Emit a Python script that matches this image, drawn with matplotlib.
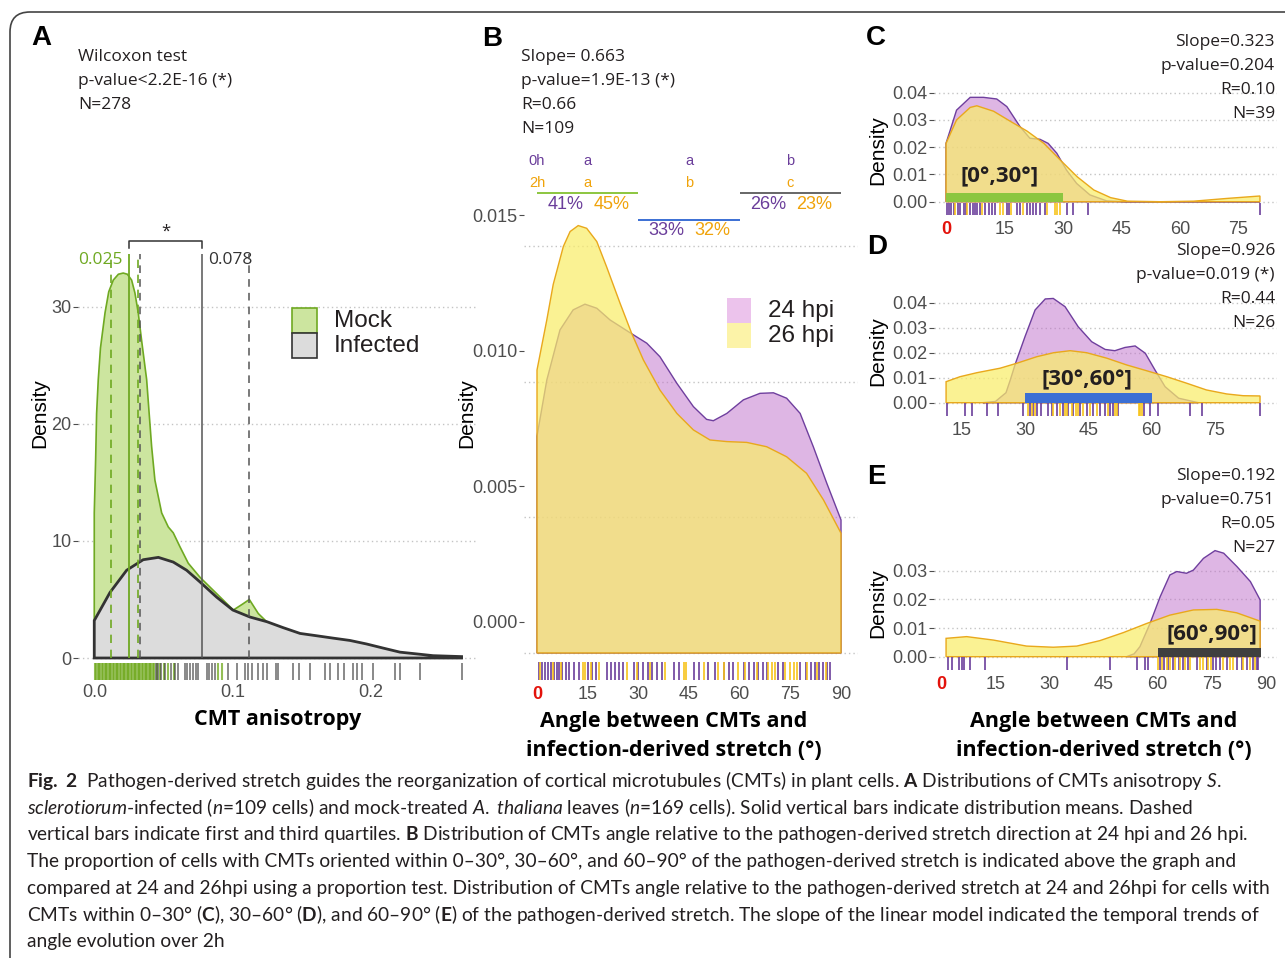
import matplotlib
matplotlib.use("Agg")
import matplotlib.pyplot as plt
from matplotlib.patches import Rectangle, FancyBboxPatch
from matplotlib.transforms import ScaledTranslation

W, H = 1285, 958

# ---------------- A : CMT anisotropy ----------------
mock_x = [-0.0005, 0.0005, 0.0012, 0.0024, 0.004, 0.0073, 0.010, 0.0133, 0.017, 0.0205, 0.0235,
          0.0266, 0.029, 0.0314, 0.034, 0.0375, 0.0411, 0.0435, 0.0484, 0.0532, 0.0568, 0.0617,
          0.0677, 0.0762, 0.0883, 0.1004, 0.107, 0.112, 0.1185, 0.1246, 0.135, 0.15, 0.17, 0.19]
mock_y = [12.4, 17.0, 20.9, 23.8, 26.5, 29.5, 31.3, 32.3, 32.8, 32.9, 32.8,
          32.3, 31.2, 29.5, 27.0, 23.8, 18.1, 15.2, 12.4, 11.2, 10.7, 9.5,
          8.1, 6.9, 5.5, 4.1, 4.6, 5.0, 3.8, 3.1, 2.2, 1.0, 0.3, 0.0]
inf_x = [-0.0005, 0.0109, 0.023, 0.035, 0.046, 0.0568, 0.0665, 0.0762, 0.0883, 0.1, 0.1125,
         0.1248, 0.1364, 0.1488, 0.1609, 0.1727, 0.185, 0.197, 0.209, 0.2213, 0.2334, 0.2453, 0.266]
inf_y = [3.2, 5.6, 7.5, 8.4, 8.6, 8.2, 7.5, 6.5, 5.2, 4.1, 3.5,
         3.1, 2.6, 2.1, 1.9, 1.7, 1.5, 1.2, 0.85, 0.5, 0.35, 0.2, 0.12]
mock_mean, inf_mean = 0.025, 0.078
mock_quart = [0.0114, 0.031]
inf_quart = [0.033, 0.112]
rug_mock = [0.000, 0.001, 0.002, 0.003, 0.004, 0.005, 0.006, 0.007, 0.008, 0.009, 0.010, 0.011,
            0.012, 0.013, 0.014, 0.015, 0.016, 0.017, 0.018, 0.019, 0.020, 0.021, 0.022, 0.023,
            0.024, 0.025, 0.026, 0.027, 0.028, 0.029, 0.030, 0.031, 0.032, 0.033, 0.034, 0.035,
            0.036, 0.037, 0.038, 0.039, 0.040, 0.041, 0.042, 0.043, 0.045, 0.047, 0.050, 0.053,
            0.057, 0.089, 0.092]
rug_inf = [0.044, 0.046, 0.048, 0.051, 0.055, 0.058, 0.060, 0.065, 0.067, 0.069, 0.071, 0.073,
           0.075, 0.081, 0.083, 0.085, 0.087, 0.0965, 0.103, 0.109, 0.111, 0.114, 0.118, 0.122,
           0.125, 0.131, 0.133, 0.144, 0.148, 0.156, 0.167, 0.1705, 0.176, 0.181, 0.1875, 0.190,
           0.1935, 0.202, 0.2177, 0.2213, 0.236, 0.266]

# ---------------- B : all cells ----------------
b24_x = [0, 2.9, 6.8, 10.7, 14.2, 17.7, 21.6, 27.5, 32.5, 36.4, 41.4, 46.3, 50.2, 52.2,
         56.2, 61.1, 66, 70, 73.9, 77.9, 81.8, 85.8, 90]
b24_y = [0.0080, 0.01007, 0.01192, 0.01266, 0.01287, 0.01272, 0.01229, 0.01182, 0.01143,
         0.01093, 0.00995, 0.00909, 0.00862, 0.00857, 0.00884, 0.00934, 0.00958, 0.0096,
         0.0094, 0.00884, 0.00761, 0.00626, 0.00491]
b26_x = [0, 2.9, 4.8, 7.8, 9.8, 12.2, 14.7, 17.7, 20.6, 24.6, 28, 31.5, 36.4, 41.4, 46.3,
         51.2, 56.2, 62.1, 68, 73.9, 79.8, 84.8, 90]
b26_y = [0.01044, 0.01229, 0.0136, 0.0150, 0.01555, 0.01577, 0.01567, 0.01518, 0.01425,
         0.0129, 0.0118, 0.01081, 0.0097, 0.00884, 0.00823, 0.00786, 0.0078, 0.00777,
         0.00761, 0.00724, 0.00663, 0.00565, 0.00442]
rug_b24 = [0.5, 1.5, 2.5, 3.3, 4.2, 5, 5.8, 6.5, 7.5, 8.6, 9.5, 11, 12.3, 15, 16.3, 17.5,
           20.8, 22, 23, 24.3, 25.6, 28.8, 30, 31.5, 32.8, 34, 35.6, 37, 40.6, 42, 46.5, 48,
           50.5, 52.8, 55.3, 56.8, 58, 61.2, 62.7, 64.3, 65.5, 67, 68, 71.3, 72.8, 78, 79.5,
           81, 82.3, 83.5, 84.8, 85.9, 86.6]
rug_b26 = [1, 4.8, 7, 13.5, 14.2, 16, 18.5, 26.5, 29.5, 33.5, 38, 43.5, 44.2, 49.5, 53.5,
           55.5, 59.5, 61.5, 65, 68.5, 69.5, 70.5, 73.5, 75, 76, 77, 80, 83, 85.5]
bins = [0, 30, 60, 90]
pct_24 = [41, 33, 26]
pct_26 = [45, 32, 23]
grp_24 = ['a', 'a', 'b']
grp_26 = ['a', 'b', 'c']

# ---------------- C : [0,30] ----------------
c24_x = [0, 2.7, 6.2, 9.6, 13, 15.6, 19, 21.5, 24.1, 26.2, 28.4, 30.9, 33.5, 36.9, 41.2, 46, 80.5]
c24_y = [0.0214, 0.0336, 0.0383, 0.0383, 0.0377, 0.0349, 0.0275, 0.0233, 0.0229, 0.0214,
         0.0178, 0.0116, 0.0067, 0.0025, 0.0003, 0.0, 0.0]
c26_x = [0, 2.7, 6.2, 7.9, 12.2, 16.5, 20.8, 25.1, 29.3, 33.6, 37.9, 42.2, 46.5, 55, 63.5, 72, 80.5]
c26_y = [0.0214, 0.0300, 0.0346, 0.0352, 0.0332, 0.0295, 0.0259, 0.0214, 0.0153, 0.0092,
         0.0043, 0.0015, 0.0002, 0.0, 0.0002, 0.0012, 0.0021]
rug_c24 = [0.3, 0.8, 1.4, 2.1, 3.2, 3.6, 4.5, 5.1, 6.2, 7.0, 7.5, 8.0, 8.7, 10.0, 10.9, 11.7,
           12.6, 15.6, 16.2, 18.1, 19.0, 20.7, 21.5, 22.4, 23.2, 24.1, 25.4, 30.9, 32.5, 36.3, 80.5]
rug_c26 = [2.3, 5.5, 9.2, 13.8, 14.5, 16.6, 19.8, 25.8, 27.9, 28.5, 29.2]

# ---------------- D : [30,60] ----------------
d24_x = [20, 23, 25.5, 26.5, 27.7, 30, 32.4, 34.8, 36.7, 39.5, 42.6, 45.8, 49, 51.3, 53.7,
         56.1, 58.5, 60.8, 63.2, 66.4, 71.1]
d24_y = [0.0, 0.0005, 0.004, 0.009, 0.0155, 0.0264, 0.0371, 0.0415, 0.0417, 0.0384, 0.0304,
         0.0244, 0.0213, 0.0208, 0.0221, 0.0227, 0.0198, 0.0131, 0.0064, 0.0018, 0.0]
d26_x = [11.3, 14.6, 18.6, 24.1, 28.1, 32.8, 36.8, 40.7, 44.6, 49.4, 54.1, 58.8, 63.6, 68.3,
         73, 77.8, 81.7, 85.7]
d26_y = [0.0084, 0.0104, 0.012, 0.0138, 0.0158, 0.0184, 0.02, 0.0208, 0.02, 0.0178, 0.0151,
         0.0128, 0.0104, 0.0078, 0.0051, 0.0035, 0.0028, 0.0027]
rug_d24 = [11.6, 15.8, 17.4, 20.9, 23.7, 29.6, 31.2, 32.0, 32.8, 33.9, 35.5, 36.3, 37.5, 39.1,
           40.3, 41.4, 43.0, 44.6, 46.2, 47.8, 48.9, 50.1, 50.9, 52.1, 58.1, 59.6, 61.6, 69.1,
           71.9, 85.7]
rug_d26 = [30.8, 31.6, 32.4, 36.7, 38.3, 39.5, 39.9, 41.1, 42.2, 42.6, 43.8, 45.4, 47.0, 49.7,
           51.3, 51.7, 56.9, 57.3, 57.7]

# ---------------- E : [60,90] ----------------
e24_x = [51.4, 53.5, 55.1, 57.9, 60.7, 63.4, 65.3, 68, 69.9, 72.7, 75.9, 78.3, 82, 85.7, 88.4]
e24_y = [0.0, 0.001, 0.0035, 0.0116, 0.0209, 0.0285, 0.0297, 0.0291, 0.0302, 0.0343, 0.037,
         0.0361, 0.0314, 0.0262, 0.0198]
e26_x = [1.4, 7.1, 14.5, 23.7, 31.1, 37.6, 44, 50.5, 57, 63.4, 69.9, 76.4, 81.9, 88.4]
e26_y = [0.0064, 0.007, 0.0058, 0.0037, 0.0033, 0.0037, 0.0056, 0.0084, 0.0116, 0.0145,
         0.0163, 0.0165, 0.0153, 0.0124]
rug_e24 = [1.8, 3.0, 5.1, 5.7, 6.4, 7.9, 12.2, 35.0, 46.8, 54.2, 56.5, 57.4, 60.7, 61.8, 63.0,
           64.4, 65.8, 67.1, 68.5, 70.8, 73.6, 75.4, 76.3, 77.3, 79.1, 81.9, 83.3, 84.7, 86.5,
           87.4, 87.9]
rug_e26 = [60.2, 61.1, 62.5, 63.4, 64.8, 66.2, 67.6, 68.9, 71.7, 72.6, 74.0, 74.9, 78.2, 80.0,
           80.9, 83.7, 85.6, 87.0]

stats_a = ["Wilcoxon test", "p-value<2.2E-16 (*)", "N=278"]
stats_b = ["Slope= 0.663", "p-value=1.9E-13 (*)", "R=0.66", "N=109"]
stats_c = ["Slope=0.323", "p-value=0.204", "R=0.10", "N=39"]
stats_d = ["Slope=0.926", "p-value=0.019 (*)", "R=0.44", "N=26"]
stats_e = ["Slope=0.192", "p-value=0.751", "R=0.05", "N=27"]

caption = [
    r"$\mathbf{Fig.\ 2}$  Pathogen-derived stretch guides the reorganization of cortical microtubules (CMTs) in plant cells. $\mathbf{A}$ Distributions of CMTs anisotropy $\mathit{S.}$",
    r"$\mathit{sclerotiorum}$-infected ($\mathit{n}$=109 cells) and mock-treated $\mathit{A.\ thaliana}$ leaves ($\mathit{n}$=169 cells). Solid vertical bars indicate distribution means. Dashed",
    r"vertical bars indicate first and third quartiles. $\mathbf{B}$ Distribution of CMTs angle relative to the pathogen-derived stretch direction at 24 hpi and 26 hpi.",
    "The proportion of cells with CMTs oriented within 0–30°, 30–60°, and 60–90° of the pathogen-derived stretch is indicated above the graph and",
    "compared at 24 and 26hpi using a proportion test. Distribution of CMTs angle relative to the pathogen-derived stretch at 24 and 26hpi for cells with",
    r"CMTs within 0–30° ($\mathbf{C}$), 30–60° ($\mathbf{D}$), and 60–90° ($\mathbf{E}$) of the pathogen-derived stretch. The slope of the linear model indicated the temporal trends of",
    "angle evolution over 2h",
]

# ---------------- style ----------------
CAPTION_FONT = 'Lato'
HUMAN = 'Open Sans'
ARIAL = 'Liberation Sans'

INK = '#231f20'
TICK_GREY = '#4d4d4d'
GRID = '#c4c4c4'
PURPLE_FILL, PURPLE_LINE = '#bf6fca', '#6f3f9e'
YELLOW_FILL, YELLOW_LINE = '#f9ed6a', '#e9a81c'
RUG_PURPLE, RUG_YELLOW = '#6a3d9a', '#f7c31a'
GREEN_FILL, GREEN_LINE = '#cce59f', '#6fa922'
GREY_FILL, GREY_LINE = '#dcdcdc', '#333333'
RED = '#e3120b'

plt.rcParams['font.family'] = ARIAL
plt.rcParams['mathtext.fontset'] = 'custom'
plt.rcParams['mathtext.rm'] = CAPTION_FONT
plt.rcParams['mathtext.it'] = CAPTION_FONT + ':italic'
plt.rcParams['mathtext.bf'] = CAPTION_FONT + ':bold'

fig = plt.figure(figsize=(W / 100, H / 100), dpi=100)


def ftext(x, y, s, **kw):
    kw.setdefault('color', INK)
    return fig.text(x / W, 1 - y / H, s, **kw)


def frect(l, t, r, b, **kw):
    fig.add_artist(Rectangle((l / W, 1 - b / H), (r - l) / W, (b - t) / H,
                             transform=fig.transFigure, **kw))


def make_axes(l, t, r, b, xlim, ylim):
    ax = fig.add_axes([l / W, 1 - b / H, (r - l) / W, (b - t) / H])
    for s in ax.spines.values():
        s.set_visible(False)
    ax.set_facecolor('none')
    ax.set_xlim(*xlim)
    ax.set_ylim(*ylim)
    ax.grid(axis='y', color=GRID, linestyle=(0, (1, 2.2)), linewidth=1.0)
    ax.set_axisbelow(True)
    ax.tick_params(axis='y', length=3.5, width=0.8, color=TICK_GREY,
                   labelcolor=TICK_GREY, labelsize=13, pad=1)
    ax.tick_params(axis='x', length=0, labelcolor=TICK_GREY, labelsize=13, pad=3)
    return ax


def closed(x, y):
    # density polygon closed down to the baseline, like geom_density
    return [x[0]] + list(x) + [x[-1]], [0] + list(y) + [0]


def pair(ax, d24, d26, r24, r26, rug_lo, rug_hi):
    px, py = closed(*d24)
    ax.fill(px, py, facecolor=PURPLE_FILL, alpha=0.5, edgecolor='none', zorder=2)
    ax.fill(px, py, facecolor='none', edgecolor=PURPLE_LINE, lw=1.0, zorder=2)
    px, py = closed(*d26)
    ax.fill(px, py, facecolor=YELLOW_FILL, alpha=0.72, edgecolor='none', zorder=3)
    ax.fill(px, py, facecolor='none', edgecolor=YELLOW_LINE, lw=1.0, zorder=3)
    ax.vlines(r24, rug_lo, rug_hi, color=RUG_PURPLE, lw=1.4, alpha=0.85, zorder=4)
    ax.vlines(r26, rug_lo, rug_hi, color=RUG_YELLOW, lw=1.4, alpha=0.85, zorder=4)


def red_zero(ax):
    lab = ax.get_xticklabels()[0]
    lab.set_color(RED)
    lab.set_fontweight('bold')


# ---------------- Panel A ----------------
axA = make_axes(78, 230, 478, 680, (-0.0123, 0.2779), (-1.88, 36.58))
px, py = closed(mock_x, mock_y)
axA.fill(px, py, facecolor=GREEN_FILL, edgecolor=GREEN_LINE, lw=1.2, zorder=2)
px, py = closed(inf_x, inf_y)
axA.fill(px, py, facecolor=GREY_FILL, edgecolor=GREY_LINE, lw=2.0, zorder=3)
axA.vlines(mock_quart, 0, 34.5, color=GREEN_LINE, lw=1.2, linestyles=(0, (5, 4)), zorder=4)
axA.vlines(inf_quart, 0, 34.5, color='#555555', lw=1.1, linestyles=(0, (5, 4)), zorder=4)
axA.vlines(mock_mean, 0, 34.5, color=GREEN_LINE, lw=1.3, zorder=4)
axA.vlines(inf_mean, 0, 34.5, color='#555555', lw=1.1, zorder=4)
axA.plot([mock_mean, mock_mean, inf_mean, inf_mean], [35.0, 35.6, 35.6, 35.0],
         color='#333333', lw=1.1, clip_on=False)
axA.text((mock_mean + inf_mean) / 2, 36.4, '*', ha='center', va='center',
         fontsize=12, color=INK, family=HUMAN)
axA.annotate(f'{mock_mean:.3f}', (mock_mean, 34.0), xytext=(-5, 0), textcoords='offset points',
             ha='right', va='center', fontsize=12.5, color=GREEN_LINE, family=HUMAN)
axA.annotate(f'{inf_mean:.3f}', (inf_mean, 34.0), xytext=(4, 0), textcoords='offset points',
             ha='left', va='center', fontsize=12.5, color='#333333', family=HUMAN)
axA.vlines(rug_mock, -0.45, -1.88, color='#6fa81c', lw=1.5, alpha=0.75, zorder=4)
axA.vlines(rug_inf, -0.45, -1.88, color='#3c3c3c', lw=1.2, alpha=0.7, zorder=4)
axA.set_yticks([0, 10, 20, 30])
axA.set_xticks([0, 0.1, 0.2], ['0.0', '0.1', '0.2'])

frect(292, 308, 317, 333, facecolor=GREEN_FILL, edgecolor=GREEN_LINE, lw=1.2)
frect(292, 333, 317, 358, facecolor=GREY_FILL, edgecolor=GREY_LINE, lw=1.2)
ftext(334, 321, 'Mock', fontsize=17.5, va='center')
ftext(334, 346, 'Infected', fontsize=17.5, va='center')

# ---------------- Panel B ----------------
axB = make_axes(524, 215, 858, 682, (-3.85, 95.03), (-0.00107, 0.01616))
pair(axB, (b24_x, b24_y), (b26_x, b26_y), rug_b24, rug_b26, -0.00033, -0.00100)
axB.set_yticks([0, 0.005, 0.010, 0.015], ['0.000', '0.005', '0.010', '0.015'])
axB.set_xticks([0, 15, 30, 45, 60, 75, 90])
red_zero(axB)

bin_cols = ['#8cc63f', '#3b6fd4', '#666666']
bin_line_y = [0.01696, 0.01598, 0.01696]
axB.text(bins[0], 0.01815, '0h', ha='center', va='center', fontsize=10.5, color=RUG_PURPLE, clip_on=False)
axB.text(bins[0], 0.01734, '2h', ha='center', va='center', fontsize=10.5, color='#f0a30a', clip_on=False)
for i in range(3):
    lo, hi = bins[i], bins[i + 1]
    mid = (lo + hi) / 2
    axB.hlines(bin_line_y[i], lo, hi, color=bin_cols[i], lw=1.4, clip_on=False)
    axB.text(mid, 0.01815, grp_24[i], ha='center', va='center', fontsize=10.5,
             color=RUG_PURPLE, clip_on=False)
    axB.text(mid, 0.01734, grp_26[i], ha='center', va='center', fontsize=10.5,
             color='#f0a30a', clip_on=False)
    py = bin_line_y[i] - 0.00040
    axB.annotate(f'{pct_24[i]}%', (mid, py), xytext=(-3, 0), textcoords='offset points',
                 ha='right', va='center', fontsize=13, color=RUG_PURPLE, annotation_clip=False)
    axB.annotate(f'{pct_26[i]}%', (mid, py), xytext=(4, 0), textcoords='offset points',
                 ha='left', va='center', fontsize=13, color='#f0a30a', annotation_clip=False)

frect(727, 298, 751, 323, facecolor='#ecc3ec', edgecolor='none')
frect(727, 323, 751, 348, facecolor='#fcf3a8', edgecolor='none')
ftext(768, 311, '24 hpi', fontsize=17.5, va='center')
ftext(768, 336, '26 hpi', fontsize=17.5, va='center')

# ---------------- Panels C, D, E ----------------
axC = make_axes(934, 85, 1277, 217, (-3.08, 84.87), (-0.00561, 0.04283))
pair(axC, (c24_x, c24_y), (c26_x, c26_y), rug_c24, rug_c26, -0.0004, -0.0049)
axC.fill_between([0, 30], 0, 0.0031, color='#8cc63f', lw=0, zorder=5)
axC.text(13.8, 0.0092, '[0°,30°]', ha='center', va='center', fontsize=16,
         family=HUMAN, weight='bold', color=INK, zorder=6)
axC.set_yticks([0, 0.01, 0.02, 0.03, 0.04], ['0.00', '0.01', '0.02', '0.03', '0.04'])
axC.set_xticks([0, 15, 30, 45, 60, 75])
red_zero(axC)

axD = make_axes(934, 290, 1277, 418, (8.44, 89.72), (-0.00612, 0.04508))
pair(axD, (d24_x, d24_y), (d26_x, d26_y), rug_d24, rug_d26, -0.0002, -0.0053)
axD.fill_between([30, 60], 0, 0.0037, color='#3b6fd4', lw=0, zorder=5)
axD.text(44.6, 0.0091, '[30°,60°]', ha='center', va='center', fontsize=16,
         family=HUMAN, weight='bold', color=INK, zorder=6)
axD.set_yticks([0, 0.01, 0.02, 0.03, 0.04], ['0.00', '0.01', '0.02', '0.03', '0.04'])
axD.set_xticks([15, 30, 45, 60, 75])

axE = make_axes(934, 540, 1277, 672, (-1.94, 93.07), (-0.00534, 0.0407))
pair(axE, (e24_x, e24_y), (e26_x, e26_y), rug_e24, rug_e26, -0.0002, -0.0046)
axE.fill_between([60, 88.6], 0, 0.0029, color='#3f3f3f', lw=0, zorder=5)
axE.text(75, 0.0076, '[60°,90°]', ha='center', va='center', fontsize=16,
         family=HUMAN, weight='bold', color=INK, zorder=6)
axE.set_yticks([0, 0.01, 0.02, 0.03], ['0.00', '0.01', '0.02', '0.03'])
axE.set_xticks([0, 15, 30, 45, 60, 75, 90])
red_zero(axE)

# B tick labels sit ~31 px above their grid lines in the original
shift = ScaledTranslation(0, 31 / 100, fig.dpi_scale_trans)
for tick in axB.yaxis.get_major_ticks():
    tick.label1.set_transform(tick.label1.get_transform() + shift)
    tick.tick1line.set_transform(tick.tick1line.get_transform() + shift)

# ---------------- labels / text ----------------
for lab, x, y in [('A', 41, 38), ('B', 492, 39), ('C', 876, 38), ('D', 877, 247), ('E', 876, 477)]:
    ftext(x, y, lab, fontsize=20, weight='bold', ha='center', va='center', color='black')

for i, s in enumerate(stats_a):
    ftext(78, 57 + 24 * i, s, fontsize=12.5, family=HUMAN, va='center')
for i, s in enumerate(stats_b):
    ftext(521, 57 + 24 * i, s, fontsize=12.5, family=HUMAN, va='center')
for i, s in enumerate(stats_c):
    ftext(1275, 42 + 24 * i, s, fontsize=12.5, family=HUMAN, va='center', ha='right')
for i, s in enumerate(stats_d):
    ftext(1275, 251 + 24 * i, s, fontsize=12.5, family=HUMAN, va='center', ha='right')
for i, s in enumerate(stats_e):
    ftext(1275, 476 + 24 * i, s, fontsize=12.5, family=HUMAN, va='center', ha='right')

for x, y in [(40, 413), (467, 413), (878, 150), (878, 351), (878, 603)]:
    ftext(x, y, 'Density', fontsize=15, rotation=90, ha='center', va='center', color='black')

ftext(278, 720, 'CMT anisotropy', fontsize=15.5, family=HUMAN, weight='bold',
      ha='center', va='center', color='black')
for cx in (674, 1104):
    ftext(cx, 721, 'Angle between CMTs and', fontsize=15.5, family=HUMAN, weight='bold',
          ha='center', va='center', color='black')
    ftext(cx, 750, 'infection-derived stretch (°)', fontsize=15.5, family=HUMAN, weight='bold',
          ha='center', va='center', color='black')

# caption, sized so the longest line spans the same width as in the original
cap_texts = []
for i, s in enumerate(caption):
    cap_texts.append(ftext(27, 787 + 26.7 * i, s, fontsize=14, family=CAPTION_FONT, va='baseline'))
fig.canvas.draw()
renderer = fig.canvas.get_renderer()
w5 = cap_texts[4].get_window_extent(renderer).width
for t in cap_texts:
    t.set_fontsize(14 * 1250 / w5)

# outer frame
fig.add_artist(FancyBboxPatch((0.10, -0.5), 13.2, 9.96, boxstyle='round,pad=0,rounding_size=0.2',
                              transform=fig.dpi_scale_trans, fill=False, ec='#444444', lw=1.2))

fig.savefig('out.png', dpi=100)
